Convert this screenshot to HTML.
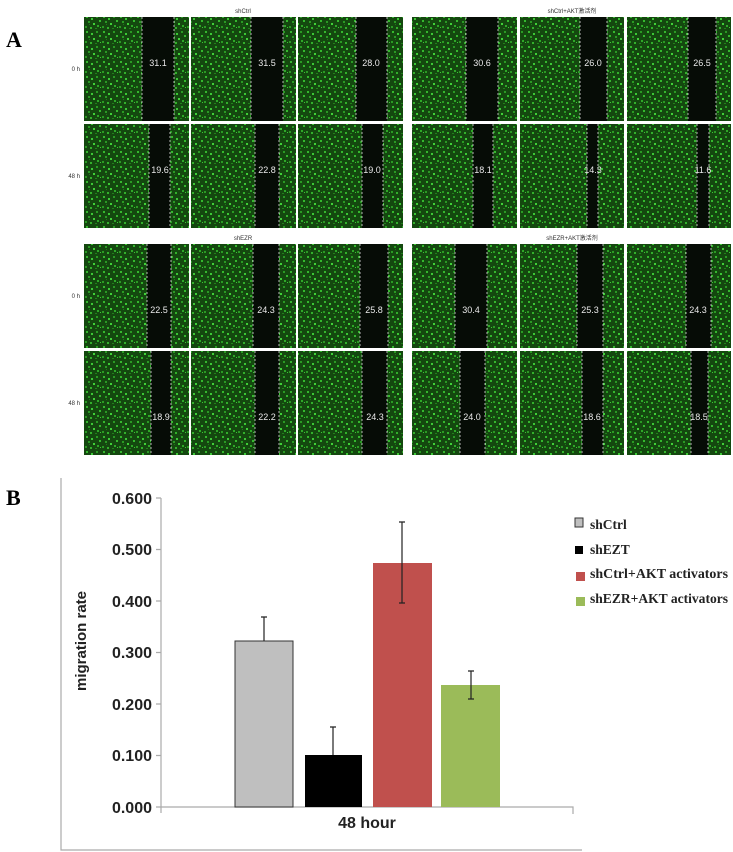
<!DOCTYPE html>
<html><head><meta charset="utf-8"><style>
html,body{margin:0;padding:0;background:#fff;}
svg{display:block;}
</style></head><body>
<svg width="733" height="852" viewBox="0 0 733 852" xmlns="http://www.w3.org/2000/svg" font-family="Liberation Sans, Noto Sans CJK SC, sans-serif">
<defs>
<pattern id="g" width="17" height="15" patternUnits="userSpaceOnUse">
<rect width="17" height="15" fill="#14480f"/>
<rect x="1" y="1" width="2" height="2" fill="#35b82e"/>
<rect x="6" y="3" width="2" height="2" fill="#3cc836"/>
<rect x="11" y="1" width="2" height="2" fill="#2a9a24"/>
<rect x="14" y="5" width="2" height="2" fill="#34b82e"/>
<rect x="3" y="6" width="2" height="2" fill="#2a9a24"/>
<rect x="8" y="8" width="2" height="2" fill="#40d038"/>
<rect x="0" y="11" width="2" height="2" fill="#2a9a24"/>
<rect x="5" y="12" width="2" height="2" fill="#33b02c"/>
<rect x="12" y="10" width="2" height="2" fill="#2ea828"/>
<rect x="15" y="12" width="1" height="1" fill="#3cc836"/>
<rect x="10" y="13" width="2" height="1" fill="#22801c"/>
<rect x="4" y="9" width="1" height="1" fill="#1f7a1a"/>
</pattern>
</defs>

<text x="6" y="47" font-family="Liberation Serif, serif" font-weight="bold" font-size="22">A</text>
<text x="6" y="505" font-family="Liberation Serif, serif" font-weight="bold" font-size="22">B</text>

<g font-size="6" fill="#333" text-anchor="middle">
<text x="243" y="13">shCtrl</text>
<text x="572" y="13">shCtrl+AKT激活剂</text>
<text x="243" y="240">shEZR</text>
<text x="572" y="240">shEZR+AKT激活剂</text>
</g>
<g font-size="6" fill="#333" text-anchor="end">
<text x="80" y="71">0 h</text>
<text x="80" y="178">48 h</text>
<text x="80" y="298">0 h</text>
<text x="80" y="405">48 h</text>
</g>

<g id="panels">
<rect x="84" y="17" width="105" height="104" fill="url(#g)"/><rect x="142" y="17" width="32" height="104" fill="#060c06"/>
<rect x="191" y="17" width="105" height="104" fill="url(#g)"/><rect x="251" y="17" width="32" height="104" fill="#060c06"/>
<rect x="298" y="17" width="105" height="104" fill="url(#g)"/><rect x="356" y="17" width="31" height="104" fill="#060c06"/>
<rect x="84" y="124" width="105" height="104" fill="url(#g)"/><rect x="149" y="124" width="21" height="104" fill="#060c06"/>
<rect x="191" y="124" width="105" height="104" fill="url(#g)"/><rect x="255" y="124" width="24" height="104" fill="#060c06"/>
<rect x="298" y="124" width="105" height="104" fill="url(#g)"/><rect x="362" y="124" width="21" height="104" fill="#060c06"/>
<rect x="412" y="17" width="105" height="104" fill="url(#g)"/><rect x="466" y="17" width="32" height="104" fill="#060c06"/>
<rect x="520" y="17" width="104" height="104" fill="url(#g)"/><rect x="580" y="17" width="27" height="104" fill="#060c06"/>
<rect x="627" y="17" width="104" height="104" fill="url(#g)"/><rect x="688" y="17" width="28" height="104" fill="#060c06"/>
<rect x="412" y="124" width="105" height="104" fill="url(#g)"/><rect x="473" y="124" width="20" height="104" fill="#060c06"/>
<rect x="520" y="124" width="104" height="104" fill="url(#g)"/><rect x="587" y="124" width="11" height="104" fill="#060c06"/>
<rect x="627" y="124" width="104" height="104" fill="url(#g)"/><rect x="697" y="124" width="12" height="104" fill="#060c06"/>
<rect x="84" y="244" width="105" height="104" fill="url(#g)"/><rect x="147" y="244" width="24" height="104" fill="#060c06"/>
<rect x="191" y="244" width="105" height="104" fill="url(#g)"/><rect x="253" y="244" width="26" height="104" fill="#060c06"/>
<rect x="298" y="244" width="105" height="104" fill="url(#g)"/><rect x="360" y="244" width="28" height="104" fill="#060c06"/>
<rect x="84" y="351" width="105" height="104" fill="url(#g)"/><rect x="151" y="351" width="20" height="104" fill="#060c06"/>
<rect x="191" y="351" width="105" height="104" fill="url(#g)"/><rect x="255" y="351" width="24" height="104" fill="#060c06"/>
<rect x="298" y="351" width="105" height="104" fill="url(#g)"/><rect x="362" y="351" width="25" height="104" fill="#060c06"/>
<rect x="412" y="244" width="105" height="104" fill="url(#g)"/><rect x="455" y="244" width="32" height="104" fill="#060c06"/>
<rect x="520" y="244" width="104" height="104" fill="url(#g)"/><rect x="577" y="244" width="26" height="104" fill="#060c06"/>
<rect x="627" y="244" width="104" height="104" fill="url(#g)"/><rect x="686" y="244" width="25" height="104" fill="#060c06"/>
<rect x="412" y="351" width="105" height="104" fill="url(#g)"/><rect x="460" y="351" width="25" height="104" fill="#060c06"/>
<rect x="520" y="351" width="104" height="104" fill="url(#g)"/><rect x="582" y="351" width="21" height="104" fill="#060c06"/>
<rect x="627" y="351" width="104" height="104" fill="url(#g)"/><rect x="691" y="351" width="17" height="104" fill="#060c06"/>
</g>

<g stroke="#ddd" stroke-width="0.8" stroke-dasharray="2,2" fill="none">
<path d="M142 17V121M174 17V121M251 17V121M283 17V121M356 17V121M387 17V121"/>
<path d="M149 124V228M170 124V228M255 124V228M279 124V228M362 124V228M383 124V228"/>
<path d="M466 17V121M498 17V121M580 17V121M607 17V121M688 17V121M716 17V121"/>
<path d="M473 124V228M493 124V228M587 124V228M598 124V228M697 124V228M709 124V228"/>
<path d="M147 244V348M171 244V348M253 244V348M279 244V348M360 244V348M388 244V348"/>
<path d="M151 351V455M171 351V455M255 351V455M279 351V455M362 351V455M387 351V455"/>
<path d="M455 244V348M487 244V348M577 244V348M603 244V348M686 244V348M711 244V348"/>
<path d="M460 351V455M485 351V455M582 351V455M603 351V455M691 351V455M708 351V455"/>
</g>

<g font-size="9" fill="#e8e8e8" text-anchor="middle">
<text x="158" y="66">31.1</text><text x="267" y="66">31.5</text><text x="371" y="66">28.0</text>
<text x="160" y="173">19.6</text><text x="267" y="173">22.8</text><text x="372" y="173">19.0</text>
<text x="482" y="66">30.6</text><text x="593" y="66">26.0</text><text x="702" y="66">26.5</text>
<text x="483" y="173">18.1</text><text x="593" y="173">14.3</text><text x="703" y="173">11.6</text>
<text x="159" y="313">22.5</text><text x="266" y="313">24.3</text><text x="374" y="313">25.8</text>
<text x="161" y="420">18.9</text><text x="267" y="420">22.2</text><text x="375" y="420">24.3</text>
<text x="471" y="313">30.4</text><text x="590" y="313">25.3</text><text x="698" y="313">24.3</text>
<text x="472" y="420">24.0</text><text x="592" y="420">18.6</text><text x="699" y="420">18.5</text>
</g>

<g stroke="#aaa" stroke-width="1.2" fill="none">
<path d="M61 478V850H582"/>
<path d="M161 498V807H573V814"/>
<path d="M156 498H161M156 549.5H161M156 601H161M156 652.5H161M156 704H161M156 755.5H161M156 807H161M161 807V813"/>
</g>
<g font-size="16" font-weight="bold" fill="#222" text-anchor="end">
<text x="152" y="504">0.600</text>
<text x="152" y="555">0.500</text>
<text x="152" y="607">0.400</text>
<text x="152" y="658">0.300</text>
<text x="152" y="710">0.200</text>
<text x="152" y="761">0.100</text>
<text x="152" y="813">0.000</text>
</g>
<text transform="translate(86,641) rotate(-90)" font-size="15" font-weight="bold" fill="#222" text-anchor="middle">migration rate</text>
<text x="367" y="828" font-size="16" font-weight="bold" fill="#222" text-anchor="middle">48 hour</text>

<rect x="235" y="641" width="58" height="166" fill="#bfbfbf" stroke="#333" stroke-width="1"/>
<rect x="305" y="755" width="57" height="52" fill="#000"/>
<rect x="373" y="563" width="59" height="244" fill="#c0504d"/>
<rect x="441" y="685" width="59" height="122" fill="#9bbb59"/>
<g stroke="#222" stroke-width="1.2">
<path d="M264 641V617M261 617H267"/>
<path d="M333 755V727M330 727H336"/>
<path d="M402 522V603M399 522H405M399 603H405"/>
<path d="M471 671V699M468 671H474M468 699H474"/>
</g>

<rect x="575" y="518" width="8" height="9" fill="#bfbfbf" stroke="#333" stroke-width="1"/>
<rect x="575" y="546" width="8" height="8" fill="#000"/>
<rect x="576" y="572" width="9" height="9" fill="#c0504d"/>
<rect x="576" y="597" width="9" height="9" fill="#9bbb59"/>
<g font-family="Liberation Serif, serif" font-weight="bold" font-size="13.5" fill="#222">
<text x="590" y="529">shCtrl</text>
<text x="590" y="554">shEZT</text>
<text x="590" y="578" textLength="138" lengthAdjust="spacingAndGlyphs">shCtrl+AKT activators</text>
<text x="590" y="603" textLength="138" lengthAdjust="spacingAndGlyphs">shEZR+AKT activators</text>
</g>
</svg>
</body></html>
